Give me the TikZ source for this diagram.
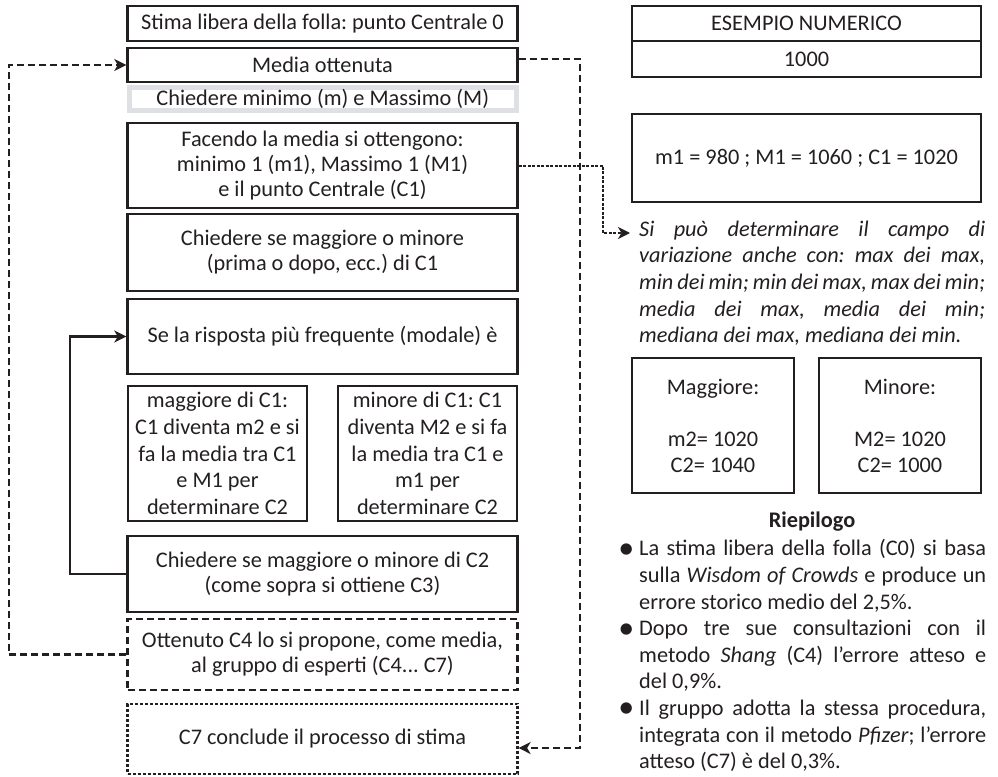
\documentclass[tikz,border=0pt]{standalone}
\usepackage{fontspec}
\setmainfont{Carlito}
\usetikzlibrary{arrows.meta}
\definecolor{ink}{HTML}{231F20}
\definecolor{grayframe}{RGB}{222,224,228}
\newcommand{\bigbul}{\llap{\raisebox{-2.5pt}{\fontsize{32}{32}\selectfont\textbullet}\hspace{5pt}}}
\begin{document}
\frenchspacing
\begin{tikzpicture}[x=1pt,y=-1pt,
  lbox/.style={draw=ink, line width=2.4pt, inner sep=0pt, align=center, text=ink, font=\fontsize{22.3}{25}\selectfont},
  dashbox/.style={lbox, line width=2.2pt, dash pattern=on 7pt off 4pt},
  dotbox/.style={lbox, line width=2.2pt, dash pattern=on 3pt off 2pt},
  grbox/.style={lbox, draw=grayframe, line width=5pt},
  conn/.style={draw=ink, line width=2.2pt},
  dconn/.style={conn, dash pattern=on 7pt off 4pt},
  oconn/.style={conn, line width=2pt, dash pattern=on 3pt off 1.5pt},
  tip/.style={-{Stealth[length=12pt,width=12pt,inset=3.5pt]}},
  para/.style={anchor=north west, inner sep=0pt, align=justify, text=ink},
]
\useasboundingbox (0,0) rectangle (998,776);

% left column
\node[lbox, minimum width=390pt, minimum height=35pt] (b1) at (322.5,23.5) {Stima libera della folla: punto Centrale 0};
\node[lbox, minimum width=390pt, minimum height=34pt] (b2) at (322.5,65) {Media ottenuta};
\node[grbox, minimum width=387.5pt, minimum height=23pt] (b3) at (322.75,99) {Chiedere minimo (m) e Massimo (M)};
\node[lbox, minimum width=390pt, minimum height=85pt] (b4) at (322.5,165.5) {Facendo la media si ottengono:\\ minimo 1 (m1), Massimo 1 (M1)\\ e il punto Centrale (C1)};
\node[lbox, minimum width=390pt, minimum height=77pt] (b5) at (322.5,252.5) {Chiedere se maggiore o minore\\ (prima o dopo, ecc.) di C1};
\node[lbox, minimum width=390pt, minimum height=75pt] (b6) at (322.5,336.5) {Se la risposta più frequente (modale) è};
\node[lbox, minimum width=179pt, minimum height=135pt, font=\fontsize{22.3}{26.7}\selectfont] (b7a) at (217.5,453.5) {maggiore di C1:\\ C1 diventa m2 e si\\ fa la media tra C1\\ e M1 per\\ determinare C2};
\node[lbox, minimum width=179pt, minimum height=135pt, font=\fontsize{22.3}{26.7}\selectfont] (b7b) at (427.5,453.5) {minore di C1: C1\\ diventa M2 e si fa\\ la media tra C1 e\\ m1 per\\ determinare C2};
\node[lbox, minimum width=390pt, minimum height=76pt] (b8) at (322.5,574) {Chiedere se maggiore o minore di C2\\ (come sopra si ottiene C3)};
\node[dashbox, minimum width=390pt, minimum height=71pt] (b9) at (322.5,654.5) {Ottenuto C4 lo si propone, come media,\\ al gruppo di esperti (C4... C7)};
\node[dotbox, minimum width=390pt, minimum height=70pt] (b10) at (322.5,739) {C7 conclude il processo di stima};

% right column
\node[lbox, minimum width=349pt, minimum height=35pt] (esn) at (806.5,23.5) {ESEMPIO NUMERICO};
\node[lbox, minimum width=349pt, minimum height=36pt] (k1000) at (806.5,59) {1000};
\node[lbox, minimum width=349pt, minimum height=88pt] (ex1) at (806.5,158) {m1 = 980 ; M1 = 1060 ; C1 = 1020};
\node[para, text width=346pt, font=\itshape\fontsize{22.3}{26.7}\selectfont] (note) at (639,217.3) {\parindent=0pt\frenchspacing\strut Si può determinare il campo di\linebreak variazione anche con: max dei max,\linebreak min dei min; min dei max, max dei min;\linebreak media dei max, media dei min;\linebreak mediana dei max, mediana dei min.};
\node[lbox, minimum width=162pt, minimum height=135pt, font=\fontsize{22.3}{26}\selectfont] (mag) at (713,425.5) {Maggiore:\\[26pt] m2= 1020\\ C2= 1040};
\node[lbox, minimum width=162pt, minimum height=135pt, font=\fontsize{22.3}{26}\selectfont] (mnr) at (900,425.5) {Minore:\\[26pt] M2= 1020\\ C2= 1000};
\node[inner sep=0pt, text=ink, font=\bfseries\fontsize{22.3}{25}\selectfont] (riep) at (812,522) {Riepilogo};
\node[para, text width=347pt, font=\fontsize{22.3}{26.6}\selectfont] (recap) at (639,537) {\parindent=0pt\frenchspacing\strut\bigbul La stima libera della folla (C0) si basa\linebreak sulla \textit{Wisdom of Crowds} e produce un\linebreak errore storico medio del 2,5\%.\par
\leavevmode\bigbul Dopo tre sue consultazioni con il\linebreak metodo \textit{Shang} (C4) l’errore atteso e\linebreak del 0,9\%.\par
\leavevmode\bigbul Il gruppo adotta la stessa procedura,\linebreak integrata con il metodo \textit{Pfizer}; l’errore\linebreak atteso (C7) è del 0,3\%.};

% connectors
\coordinate (lc) at (9,0);
\coordinate (sc) at (70,0);
\coordinate (rc) at (580,0);
\coordinate (dc) at (603,0);
\coordinate (notetip) at (630,233);
\draw[dconn, tip] (b9.west) -- (b9.west -| lc) |- (b2.west);
\draw[conn, tip] (b8.west) -- (b8.west -| sc) |- (b6.west);
\draw[dconn, tip] ([yshift=6pt]b2.east) -- ([yshift=6pt]b2.east -| rc) |- ([yshift=-9pt]b10.east);
\draw[oconn, tip] (b4.east) -- (b4.east -| dc) |- (notetip);
\end{tikzpicture}
\end{document}
